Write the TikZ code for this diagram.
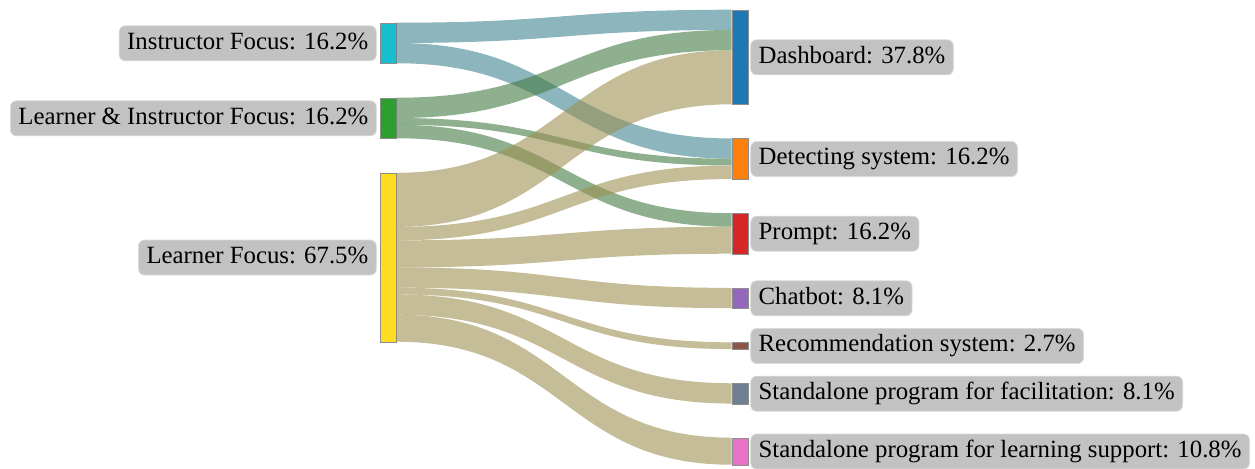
\documentclass[tikz,border=0pt]{standalone}
\usepackage{fontspec}
\setmainfont{Liberation Serif}
\usepackage{xcolor}
\usepackage{tikz}
\usetikzlibrary{positioning}
\definecolor{sankeyCyan}{HTML}{17BECF}
\definecolor{sankeyGreen}{HTML}{2CA02C}
\definecolor{sankeyYellow}{HTML}{FDDC22}
\definecolor{sankeyBlue}{HTML}{1F77B4}
\definecolor{sankeyOrange}{HTML}{FF7F0E}
\definecolor{sankeyRed}{HTML}{D62728}
\definecolor{sankeyPurple}{HTML}{9467BD}
\definecolor{sankeyBrown}{HTML}{8C564B}
\definecolor{sankeySlate}{HTML}{6F7F91}
\definecolor{sankeyPink}{HTML}{E772C8}
\definecolor{sankeyTeal}{HTML}{418491}
\definecolor{sankeyMoss}{HTML}{447B43}
\definecolor{sankeyKhaki}{HTML}{9D9153}
\definecolor{sankeyGray}{HTML}{C2C2C2}
\newcommand{\fu}{3.3784pt}
\newcommand{\sankeyflow}[6]{%
  \fill[#6] ([yshift=-#2*\fu]#1.north east) .. controls +(84pt,0) and +(-84pt,0) .. ([yshift=-#4*\fu]#3.north west)
    -- ([yshift=-(#4+#5)*\fu]#3.north west) .. controls +(-84pt,0) and +(84pt,0) .. ([yshift=-(#2+#5)*\fu]#1.north east) -- cycle;}

\begin{document}
\begin{tikzpicture}[x=0.5pt, y=-0.5pt, bar/.style={rectangle, draw=black!45, line width=0.3pt, minimum width=8pt, inner sep=0pt}, lbl/.style={rectangle, rounded corners=3pt, fill=sankeyGray, draw=sankeyGray!60!white, line width=0.4pt, text=black, inner xsep=4pt, inner ysep=0pt, minimum height=17.5pt, text height=8.7pt, text depth=2.8pt, font=\fontsize{12.4}{14}\selectfont}, teal/.style={fill=sankeyTeal, fill opacity=0.6}, moss/.style={fill=sankeyMoss, fill opacity=0.6}, khaki/.style={fill=sankeyKhaki, fill opacity=0.6}]
\useasboundingbox (0,0) rectangle (1255,468);
% source bars
\node[bar, fill=sankeyCyan, minimum height=6*\fu] (instr) at (388,43.27) {};
\node[bar, fill=sankeyGreen, minimum height=6*\fu] (both) at (388,118.31) {};
\node[bar, fill=sankeyYellow, minimum height=25*\fu] (learner) at (388,257.54) {};
% target bars
\node[bar, fill=sankeyBlue, minimum height=14*\fu] (dash) at (740,57.30) {};
\node[bar, fill=sankeyOrange, minimum height=6*\fu] (detect) at (740,159.03) {};
\node[bar, fill=sankeyRed, minimum height=6*\fu] (prompt) at (740,233.74) {};
\node[bar, fill=sankeyPurple, minimum height=3*\fu] (chat) at (740,298.32) {};
\node[bar, fill=sankeyBrown, minimum height=1*\fu] (recom) at (740,346.00) {};
\node[bar, fill=sankeySlate, minimum height=3*\fu] (facil) at (740,393.69) {};
\node[bar, fill=sankeyPink, minimum height=4*\fu] (support) at (740,451.50) {};
% flows
\sankeyflow{instr}{0}{dash}{0}{3}{teal}
\sankeyflow{instr}{3}{detect}{0}{3}{teal}
\sankeyflow{both}{0}{dash}{3}{3}{moss}
\sankeyflow{both}{3}{detect}{3}{1}{moss}
\sankeyflow{both}{4}{prompt}{0}{2}{moss}
\sankeyflow{learner}{0}{dash}{6}{8}{khaki}
\sankeyflow{learner}{8}{detect}{4}{2}{khaki}
\sankeyflow{learner}{10}{prompt}{2}{4}{khaki}
\sankeyflow{learner}{14}{chat}{0}{3}{khaki}
\sankeyflow{learner}{17}{recom}{0}{1}{khaki}
\sankeyflow{learner}{18}{facil}{0}{3}{khaki}
\sankeyflow{learner}{21}{support}{0}{4}{khaki}
% labels
\node[lbl, left=1.5pt of instr] (instrlbl) {Instructor Focus: 16.2\%};
\node[lbl, left=1.5pt of both] (bothlbl) {Learner \& Instructor Focus: 16.2\%};
\node[lbl, left=1.5pt of learner] (learnerlbl) {Learner Focus: 67.5\%};
\node[lbl, right=1pt of dash] (dashlbl) {Dashboard: 37.8\%};
\node[lbl, right=1pt of detect] (detectlbl) {Detecting system: 16.2\%};
\node[lbl, right=1pt of prompt] (promptlbl) {Prompt: 16.2\%};
\node[lbl, right=1pt of chat] (chatlbl) {Chatbot: 8.1\%};
\node[lbl, right=1pt of recom] (recomlbl) {Recommendation system: 2.7\%};
\node[lbl, right=1pt of facil] (facillbl) {Standalone program for facilitation: 8.1\%};
\node[lbl, right=1pt of support] (supportlbl) {Standalone program for learning support: 10.8\%};
\end{tikzpicture}
\end{document}
